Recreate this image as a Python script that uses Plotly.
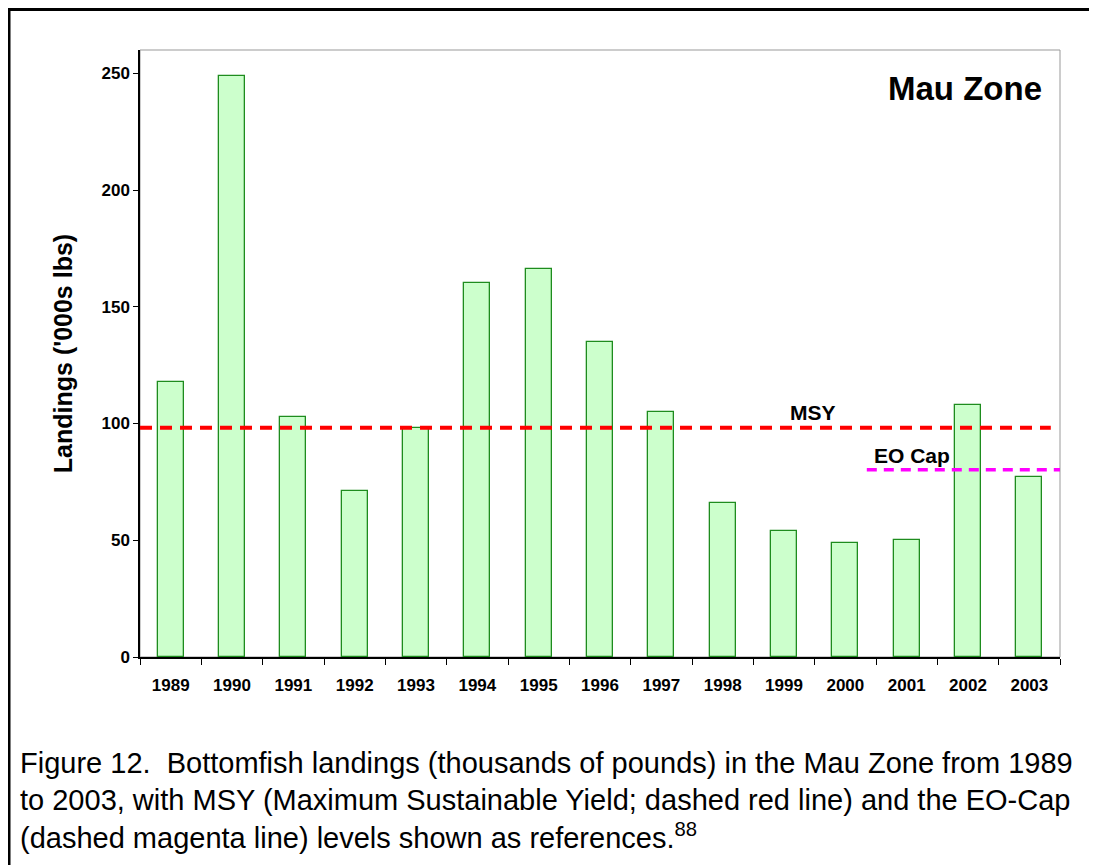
import plotly.graph_objects as go

## ==== ##
## DATA ##
## ==== ##
years    = [1989, 1990, 1991, 1992, 1993, 1994, 1995, 1996,
            1997, 1998, 1999, 2000, 2001, 2002, 2003]
landings = [118, 249, 103, 71, 98, 160, 166, 135,
            105, 66, 54, 49, 50, 108, 77]

msy_level   = 98.2
msy_span    = [1988.5, 2003.35]
eocap_level = 80.2
eocap_span  = [2000.35, 2003.5]

y_ticks = [0, 50, 100, 150, 200, 250]

caption_lines = [
    "Figure 12.&nbsp; Bottomfish landings (thousands of pounds) in the Mau Zone from 1989",
    "to 2003, with MSY (Maximum Sustainable Yield; dashed red line) and the EO-Cap",
    "(dashed magenta line) levels shown as references.<sup>88</sup>",
]

FONT = "Liberation Sans, Arial, sans-serif"

## page body has an 8px margin, so the figure sits at (8, 8) in the window
PAGE_OFF = 8
PLOT_L, PLOT_T, PLOT_W, PLOT_H = 140, 50, 920, 607   # plot area in window pixels
FIG_W, FIG_H = 1097 - PAGE_OFF, 865 - PAGE_OFF

def px_x(x):
    return (x - PLOT_L) / PLOT_W

def px_y(y):
    return (PLOT_T + PLOT_H - y) / PLOT_H

## ====== ##
## FIGURE ##
## ====== ##
fig = go.Figure()

fig.add_trace(go.Bar(x=years, y=landings,
                     width=0.42,
                     marker=dict(color="#CCFFCC",
                                 line=dict(color="#1E8C1E", width=1.3)),
                     showlegend=False))

## Reference lines
fig.add_trace(go.Scatter(x=msy_span, y=[msy_level, msy_level],
                         mode="lines",
                         line=dict(color="#FF0000", width=4, dash="12px,8px"),
                         showlegend=False))
fig.add_trace(go.Scatter(x=eocap_span, y=[eocap_level, eocap_level],
                         mode="lines",
                         line=dict(color="#FF00FF", width=3.5, dash="10px,7px"),
                         showlegend=False))

## Labels in the plot
fig.add_annotation(x=1999.47, y=104.6, text="MSY", showarrow=False,
                   font=dict(family=FONT, size=21, color="#000000", weight="bold"))
fig.add_annotation(x=2001.09, y=86.2, text="EO Cap", showarrow=False,
                   font=dict(family=FONT, size=21, color="#000000", weight="bold"))
fig.add_annotation(x=2001.95, y=243.6, text="Mau Zone", showarrow=False,
                   font=dict(family=FONT, size=33, color="#000000", weight="bold"))

## Caption, one annotation per line
for i, line in enumerate(caption_lines):
    fig.add_annotation(xref="paper", yref="paper",
                       x=px_x(18), y=px_y(763 + i * 36.5),
                       xanchor="left", yanchor="middle",
                       text=line, showarrow=False, align="left",
                       font=dict(family=FONT, size=29, color="#000000"))

## Plot frame (grey top/right) and outer page border (black top/left)
fig.add_shape(type="rect", xref="paper", yref="paper",
              x0=0, x1=1, y0=0, y1=1,
              line=dict(color="#999999", width=1), layer="below")
fig.add_shape(type="line", xref="paper", yref="paper",
              x0=px_x(8), x1=px_x(1100), y0=px_y(9.5), y1=px_y(9.5),
              line=dict(color="#000000", width=3))
fig.add_shape(type="line", xref="paper", yref="paper",
              x0=px_x(9), x1=px_x(9), y0=px_y(8), y1=px_y(870),
              line=dict(color="#000000", width=3))

fig.update_xaxes(range=[1988.5, 2003.5],
                 tickvals=years,
                 ticktext=[str(y) for y in years],
                 ticks="",
                 minor=dict(tick0=1988.5, dtick=1, ticks="outside",
                            ticklen=6, tickwidth=1, tickcolor="#000000"),
                 showgrid=False,
                 zeroline=False,
                 showline=True, linecolor="#000000", linewidth=1.5,
                 tickfont=dict(family=FONT, size=17, color="#000000", weight="bold"),
                 ticklabelstandoff=12,
                 fixedrange=True)

fig.update_yaxes(range=[0, 260],
                 tickvals=y_ticks,
                 ticks="outside", ticklen=5, tickwidth=1, tickcolor="#000000",
                 showgrid=False,
                 zeroline=False,
                 showline=True, linecolor="#000000", linewidth=1.5,
                 tickfont=dict(family=FONT, size=17, color="#000000", weight="bold"),
                 title=dict(text="Landings ('000s lbs)",
                            font=dict(family=FONT, size=25, color="#000000", weight="bold"),
                            standoff=22),
                 fixedrange=True)

fig.update_layout(width=FIG_W, height=FIG_H,
                  margin=dict(l=PLOT_L - PAGE_OFF,
                              r=FIG_W - (PLOT_L - PAGE_OFF) - PLOT_W,
                              t=PLOT_T - PAGE_OFF,
                              b=FIG_H - (PLOT_T - PAGE_OFF) - PLOT_H,
                              autoexpand=False),
                  plot_bgcolor="#FFFFFF",
                  paper_bgcolor="#FFFFFF",
                  showlegend=False,
                  bargap=0)

fig.write_html("out.html")
